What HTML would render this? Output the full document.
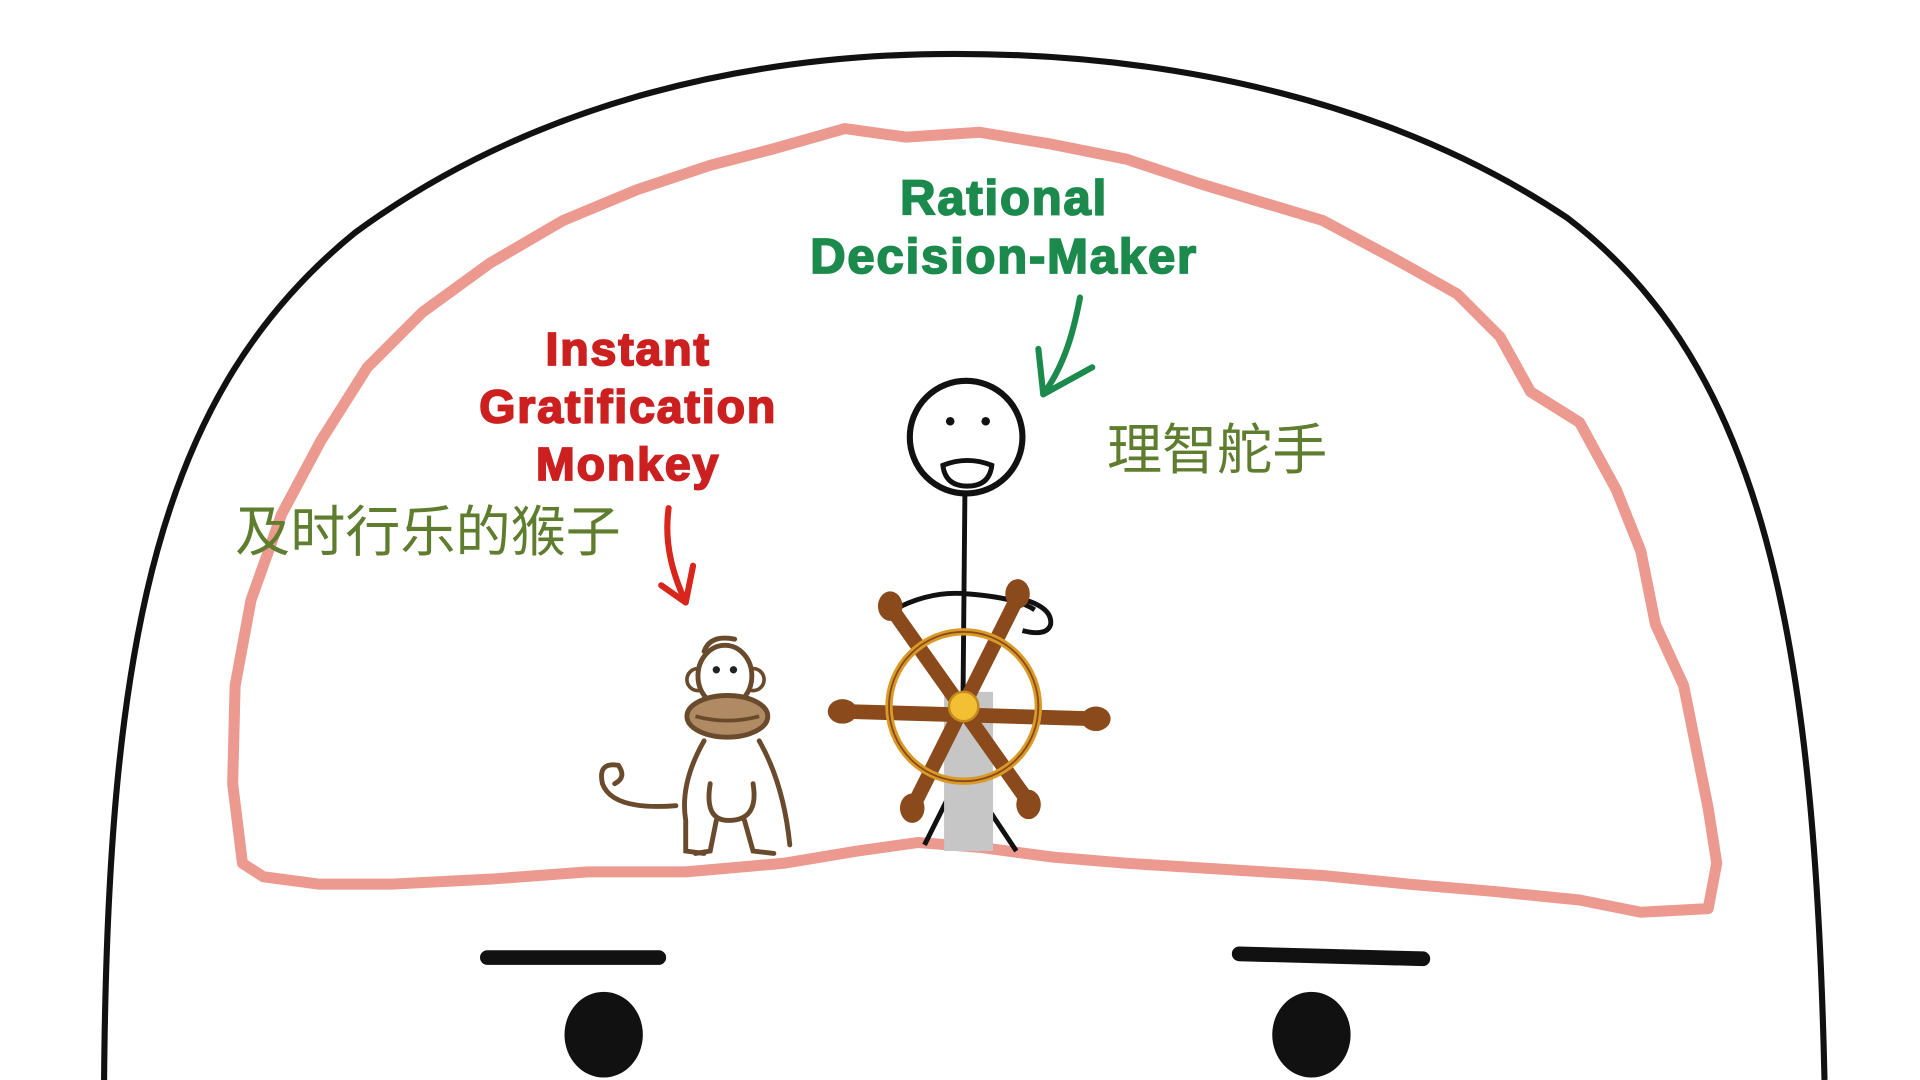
<!DOCTYPE html>
<html><head><meta charset="utf-8"><style>html,body{margin:0;padding:0;background:#fff;overflow:hidden}svg{display:block}</style></head>
<body>
<svg width="1920" height="1080" viewBox="0 0 1568 882" xmlns="http://www.w3.org/2000/svg">
<rect width="1568" height="882" fill="#fff"/>
<!-- head outline -->
<path d="M85 882 C88 520 130 320 290 190 C440 80 620 44 780 44 C960 44 1140 84 1280 178 C1440 300 1482 520 1490 882" fill="none" stroke="#111" stroke-width="5"/>
<!-- brain -->
<path d="M198 705 L190 640 L192 560 L205 490 L230 420 L262 360 L300 300 L345 255 L400 215 L460 180 L520 155 L580 135 L630 122 L690 105 L740 112 L800 108 L860 118 L920 130 L980 150 L1030 165 L1080 180 L1140 212 L1190 240 L1225 275 L1250 320 L1290 345 L1320 400 L1340 450 L1352 510 L1375 560 L1385 610 L1395 660 L1402 705 L1395 742 L1340 745 L1290 735 L1220 728 L1150 722 L1080 715 L1000 710 L920 705 L860 700 L800 692 L750 688 L700 695 L640 705 L560 712 L480 712 L400 718 L320 722 L260 722 L215 716 Z" fill="none" stroke="#ec9990" stroke-width="9" stroke-linejoin="round"/>
<!-- eyebrows and eyes -->
<line x1="398" y1="782" x2="538" y2="782" stroke="#111" stroke-width="12" stroke-linecap="round"/>
<line x1="1012" y1="779" x2="1162" y2="783" stroke="#111" stroke-width="12" stroke-linecap="round"/>
<ellipse cx="493" cy="845" rx="32" ry="35" fill="#111"/>
<ellipse cx="1071" cy="845" rx="32" ry="35" fill="#111"/>
<!-- labels -->
<g font-family="'Liberation Sans',sans-serif" font-weight="bold" text-anchor="middle" stroke-width="1.5">
<text x="820" y="175" font-size="40" fill="#1b8a4c" stroke="#1b8a4c" letter-spacing="1.5">Rational</text>
<text x="820" y="223" font-size="40" fill="#1b8a4c" stroke="#1b8a4c" letter-spacing="1.5">Decision-Maker</text>
<text x="513" y="298" font-size="38" fill="#cc2020" stroke="#cc2020" letter-spacing="1.5">Instant</text>
<text x="513" y="345" font-size="38" fill="#cc2020" stroke="#cc2020" letter-spacing="1.5">Gratification</text>
<text x="513" y="392" font-size="38" fill="#cc2020" stroke="#cc2020" letter-spacing="1.5">Monkey</text>
</g>
<g font-family="'Liberation Sans','Noto Sans CJK SC',sans-serif" font-size="45" fill="#5e7d2e">
<text x="192" y="450">及时行乐的猴子</text>
<text x="904" y="383">理智舵手</text>
</g>
<!-- arrows -->
<path d="M882 243 C876 275 868 300 852 322" fill="none" stroke="#1b8a4c" stroke-width="5" stroke-linecap="round"/>
<path d="M848 285 L852 322 L892 300" fill="none" stroke="#1b8a4c" stroke-width="5" stroke-linecap="round" stroke-linejoin="round"/>
<path d="M546 415 C542 445 550 470 560 492" fill="none" stroke="#d8261c" stroke-width="5" stroke-linecap="round"/>
<path d="M540 478 L560 492 L566 462" fill="none" stroke="#d8261c" stroke-width="5" stroke-linecap="round" stroke-linejoin="round"/>
<!-- stick figure -->
<circle cx="789" cy="357" r="46" fill="none" stroke="#111" stroke-width="5"/>
<circle cx="776" cy="344" r="3.5" fill="#111"/><circle cx="805" cy="344" r="3.5" fill="#111"/>
<path d="M770 380 Q790 372 810 380 Q808 397 790 397 Q772 397 770 380 Z" fill="none" stroke="#111" stroke-width="4"/>
<line x1="788" y1="403" x2="786" y2="620" stroke="#111" stroke-width="4"/>
<path d="M730 498 Q760 482 790 485 Q830 488 845 498" fill="none" stroke="#111" stroke-width="4"/>
<path d="M830 488 Q860 495 858 510 Q855 520 835 515" fill="none" stroke="#111" stroke-width="4"/>
<line x1="775" y1="650" x2="755" y2="690" stroke="#111" stroke-width="4"/>
<line x1="800" y1="650" x2="830" y2="695" stroke="#111" stroke-width="4"/>
<!-- post -->
<rect x="771" y="565" width="40" height="130" fill="#c6c6c6"/>
<!-- wheel -->
<g stroke="#8b4a1c" stroke-linecap="round">
<line x1="690" y1="581" x2="893" y2="587" stroke-width="12"/>
<line x1="728" y1="497" x2="840" y2="655" stroke-width="12"/>
<line x1="830" y1="490" x2="745" y2="660" stroke-width="12"/>
</g>
<g fill="#8b4a1c">
<ellipse cx="688" cy="581" rx="12" ry="10"/><ellipse cx="895" cy="587" rx="12" ry="10"/>
<ellipse cx="727" cy="495" rx="10" ry="12"/><ellipse cx="831" cy="485" rx="10" ry="12"/>
<ellipse cx="745" cy="660" rx="10" ry="12"/><ellipse cx="840" cy="657" rx="10" ry="12"/>
</g>
<circle cx="787" cy="577" r="61" fill="none" stroke="#d99a28" stroke-width="6"/>
<circle cx="787" cy="577" r="61" fill="none" stroke="#8b4a1c" stroke-width="1.5"/>
<circle cx="787" cy="577" r="12" fill="#f3c033" stroke="#c58a1c" stroke-width="2"/>
<!-- monkey -->
<g stroke="#6a4a2c" stroke-width="4" fill="none" stroke-linecap="round">
<path d="M575 532 Q580 518 600 522"/>
<path d="M552 658 Q500 662 492 640 Q488 622 505 625 Q512 635 502 640"/>
<path d="M575 605 Q555 640 560 670 L560 695 L575 697"/>
<path d="M620 605 Q640 640 645 690"/>
<path d="M580 640 Q575 670 595 670 Q620 670 615 640"/>
<path d="M585 670 L580 695 L568 697"/>
<path d="M608 670 L615 695 L632 697"/>
</g>
<circle cx="570" cy="555" r="9" fill="#fff" stroke="#6a4a2c" stroke-width="3"/>
<circle cx="615" cy="555" r="9" fill="#fff" stroke="#6a4a2c" stroke-width="3"/>
<ellipse cx="592" cy="552" rx="22" ry="25" fill="#fff" stroke="#6a4a2c" stroke-width="4"/>
<circle cx="585" cy="547" r="3" fill="#222"/><circle cx="599" cy="547" r="3" fill="#222"/>
<ellipse cx="594" cy="585" rx="33" ry="17" fill="#b08a62" stroke="#6a4a2c" stroke-width="4"/>
<path d="M568 585 Q594 592 620 585" fill="none" stroke="#6a4a2c" stroke-width="3"/>
</svg>
</body></html>
